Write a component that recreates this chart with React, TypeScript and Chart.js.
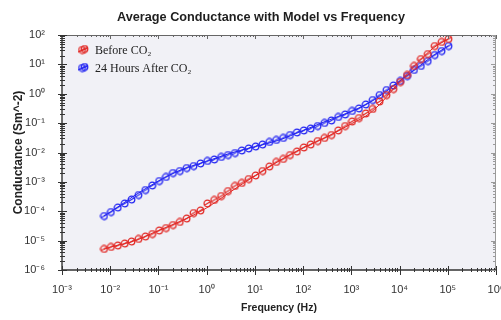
import React, { useEffect, useRef } from 'react';
import { Chart, registerables } from 'chart.js';

Chart.register(...registerables);

const titleText = 'Average Conductance with Model vs Frequency';
const xTitle = 'Frequency (Hz)';
const yTitle = 'Conductance (Sm^-2)';
const seriesLabels = ['Before CO₂', '24 Hours After CO₂'];
const seriesColors = ['#e22a26', '#2426f2'];

const frequencyHz = [
  0.00741, 0.0103, 0.0143, 0.0199, 0.0276, 0.0384, 0.0533, 0.0741, 0.103, 0.143,
  0.199, 0.276, 0.384, 0.533, 0.741, 1.03, 1.43, 1.99, 2.76, 3.84,
  5.33, 7.41, 10.3, 14.3, 19.9, 27.6, 38.4, 53.3, 74.1, 103,
  143, 199, 276, 384, 533, 741, 1030, 1430, 1990, 2760,
  3840, 5330, 7410, 10300, 14300, 19900, 27600, 38400, 53300, 74100,
  103000,
];

const beforeCO2 = [
  5.19e-6, 6.07e-6, 6.82e-6, 7.98e-6, 9.33e-6, 1.14e-5, 1.38e-5, 1.68e-5, 2.21e-5, 2.69e-5,
  3.4e-5, 4.31e-5, 5.66e-5, 8.71e-5, 1.06e-4, 1.84e-4, 2.42e-4, 3.3e-4, 4.89e-4, 7.24e-4,
  9.16e-4, 1.25e-3, 1.65e-3, 2.34e-3, 3.33e-3, 4.75e-3, 6.01e-3, 8.22e-3, 1.08e-2, 1.48e-2,
  1.87e-2, 2.46e-2, 3.12e-2, 3.94e-2, 5.61e-2, 7.98e-2, 0.1135, 0.149, 0.213, 0.303,
  0.545, 0.906, 1.45, 2.51, 4.35, 8.81, 15.2, 22.5, 42.2, 57.8,
  73.1,
];

const after24hCO2 = [
  6.89e-5, 9.42e-5, 1.34e-4, 1.84e-4, 2.51e-4, 3.57e-4, 5.28e-4, 7.53e-4, 1.07e-3, 1.47e-3,
  2.0e-3, 2.34e-3, 2.96e-3, 3.47e-3, 4.23e-3, 5.14e-3, 5.78e-3, 7.03e-3, 8.22e-3, 9.61e-3,
  1.17e-2, 1.37e-2, 1.6e-2, 1.87e-2, 2.28e-2, 2.67e-2, 3.12e-2, 3.94e-2, 4.8e-2, 5.61e-2,
  6.56e-2, 7.98e-2, 0.101, 0.123, 0.162, 0.197, 0.259, 0.315, 0.431, 0.612,
  0.906, 1.34, 1.91, 2.72, 4.02, 6.44, 8.81, 13.0, 20.8, 28.5,
  42.2,
];

const modelFrequencyHz = [
  0.0074, 0.01, 0.03, 0.1, 0.3, 1, 3, 10, 30, 100, 300, 1000, 2000, 3000, 5000, 10000, 20000, 50000, 103000,
];
const modelBeforeCO2 = [
  5.1e-6, 6.0e-6, 9.5e-6, 2.2e-5, 4.7e-5, 1.3e-4, 4.4e-4, 1.6e-3, 4.9e-3, 1.45e-2, 3.3e-2, 9.5e-2, 0.174, 0.29, 0.68, 2.6, 8.5, 36, 74,
];
const modelAfter24hCO2 = [
  6.9e-5, 9.3e-5, 3.2e-4, 1.07e-3, 2.6e-3, 5.0e-3, 9.3e-3, 1.58e-2, 2.57e-2, 5.6e-2, 0.117, 0.25, 0.43, 0.63, 1.12, 2.7, 6.3, 20, 42.7,
];

const xTickValues = [1e-3, 1e-2, 1e-1, 1e0, 1e1, 1e2, 1e3, 1e4, 1e5, 1e6];
const xTickLabels = ['10⁻³', '10⁻²', '10⁻¹', '10⁰', '10¹', '10²', '10³', '10⁴', '10⁵', '10⁶'];
const yTickValues = [1e-6, 1e-5, 1e-4, 1e-3, 1e-2, 1e-1, 1e0, 1e1, 1e2];
const yTickLabels = ['10⁻⁶', '10⁻⁵', '10⁻⁴', '10⁻³', '10⁻²', '10⁻¹', '10⁰', '10¹', '10²'];
const minorMultipliers = [2, 3, 4, 5, 6, 7, 8, 9];

const SANS = '"Liberation Sans", Arial, sans-serif';
const SERIF = '"Liberation Serif", "Times New Roman", serif';

function makeMarker(color: string): HTMLCanvasElement {
  const c = document.createElement('canvas');
  c.width = 9;
  c.height = 9;
  const g = c.getContext('2d')!;
  g.strokeStyle = color;
  g.lineWidth = 1.3;
  g.beginPath();
  g.arc(4.5, 4.5, 3.3, 0, Math.PI * 2);
  g.stroke();
  g.beginPath();
  g.moveTo(2.0, 6.0);
  g.lineTo(7.0, 3.0);
  g.stroke();
  return c;
}

export default function App() {
  const canvasRef = useRef<HTMLCanvasElement | null>(null);

  useEffect(() => {
    const canvas = canvasRef.current;
    if (!canvas) return;
    const markers = seriesColors.map(makeMarker);

    const bgPlugin = {
      id: 'plotBg',
      beforeDraw(chart: any) {
        const { ctx, chartArea: a } = chart;
        ctx.save();
        ctx.fillStyle = '#f1f1f6';
        ctx.fillRect(a.left, a.top, a.right - a.left, a.bottom - a.top);
        ctx.restore();
      },
    };

    const framePlugin = {
      id: 'frame',
      afterDatasetsDraw(chart: any) {
        const { ctx, chartArea: a, scales } = chart;
        const xs = scales.x;
        const ys = scales.y;
        ctx.save();
        ctx.lineWidth = 1;
        ctx.strokeStyle = '#666';
        ctx.beginPath();
        ctx.moveTo(a.left, a.top + 0.5);
        ctx.lineTo(a.right, a.top + 0.5);
        ctx.stroke();
        ctx.strokeStyle = '#9a9a9a';
        ctx.beginPath();
        ctx.moveTo(a.right - 0.5, a.top);
        ctx.lineTo(a.right - 0.5, a.bottom);
        ctx.stroke();
        ctx.strokeStyle = '#333';
        ctx.lineWidth = 1.4;
        ctx.beginPath();
        ctx.moveTo(a.left, a.bottom);
        ctx.lineTo(a.right, a.bottom);
        ctx.moveTo(a.left, a.top);
        ctx.lineTo(a.left, a.bottom);
        ctx.stroke();

        ctx.lineWidth = 1;
        for (let d = -3; d <= 6; d++) {
          const base = Math.pow(10, d);
          const px = Math.round(xs.getPixelForValue(base)) + 0.5;
          ctx.strokeStyle = '#333';
          ctx.beginPath();
          ctx.moveTo(px, a.bottom - 4);
          ctx.lineTo(px, a.bottom + 5);
          ctx.stroke();
          ctx.strokeStyle = '#666';
          ctx.beginPath();
          ctx.moveTo(px, a.top);
          ctx.lineTo(px, a.top + 4);
          ctx.stroke();
          if (d === 6) continue;
          for (const m of minorMultipliers) {
            const p = Math.round(xs.getPixelForValue(m * base)) + 0.5;
            ctx.strokeStyle = '#333';
            ctx.beginPath();
            ctx.moveTo(p, a.bottom - 2);
            ctx.lineTo(p, a.bottom + 2);
            ctx.stroke();
            ctx.strokeStyle = '#666';
            ctx.beginPath();
            ctx.moveTo(p, a.top);
            ctx.lineTo(p, a.top + 2);
            ctx.stroke();
          }
        }
        for (let d = -6; d <= 2; d++) {
          const base = Math.pow(10, d);
          const py = Math.round(ys.getPixelForValue(base)) + 0.5;
          ctx.strokeStyle = '#333';
          ctx.beginPath();
          ctx.moveTo(a.left - 4, py);
          ctx.lineTo(a.left + 5, py);
          ctx.stroke();
          ctx.strokeStyle = '#9a9a9a';
          ctx.beginPath();
          ctx.moveTo(a.right, py);
          ctx.lineTo(a.right - 5, py);
          ctx.stroke();
          if (d === 2) continue;
          for (const m of minorMultipliers) {
            const p = Math.round(ys.getPixelForValue(m * base)) + 0.5;
            ctx.strokeStyle = '#333';
            ctx.beginPath();
            ctx.moveTo(a.left - 2, p);
            ctx.lineTo(a.left + 3, p);
            ctx.stroke();
            ctx.strokeStyle = '#9a9a9a';
            ctx.beginPath();
            ctx.moveTo(a.right, p);
            ctx.lineTo(a.right - 3, p);
            ctx.stroke();
          }
        }
        ctx.restore();
      },
    };

    const overlayPlugin = {
      id: 'overlay',
      afterDraw(chart: any) {
        const { ctx, chartArea: a } = chart;
        ctx.save();
        ctx.fillStyle = '#1e1e1e';
        ctx.font = `bold 12.7px ${SANS}`;
        ctx.textAlign = 'center';
        ctx.textBaseline = 'middle';
        ctx.fillText(titleText, 261, 17);
        ctx.font = `12px ${SERIF}`;
        ctx.textAlign = 'left';
        seriesLabels.forEach((label, i) => {
          const cy = a.top + 15 + i * 18;
          const cx = a.left + 21;
          ctx.strokeStyle = seriesColors[i];
          ctx.lineWidth = 1;
          ctx.beginPath();
          ctx.moveTo(cx - 5, cy + 2);
          ctx.lineTo(cx + 5, cy - 2);
          ctx.stroke();
          ctx.drawImage(markers[i], cx - 4.5 - 1, cy - 4.5);
          ctx.drawImage(markers[i], cx - 4.5 + 1.5, cy - 4.5 - 1);
          ctx.fillStyle = '#222';
          ctx.fillText(label, a.left + 33, cy + 1);
        });
        ctx.restore();
      },
    };

    const chart = new Chart(canvas, {
      type: 'scatter',
      data: {
        datasets: [
          {
            label: seriesLabels[0],
            data: frequencyHz.map((f, i) => ({ x: f, y: beforeCO2[i] })),
            pointStyle: markers[0],
            borderColor: seriesColors[0],
            showLine: false,
            order: 1,
          },
          {
            label: seriesLabels[1],
            data: frequencyHz.map((f, i) => ({ x: f, y: after24hCO2[i] })),
            pointStyle: markers[1],
            borderColor: seriesColors[1],
            showLine: false,
            order: 1,
          },
          {
            label: 'Model ' + seriesLabels[0],
            data: modelFrequencyHz.map((f, i) => ({ x: f, y: modelBeforeCO2[i] })),
            showLine: true,
            pointRadius: 0,
            borderColor: seriesColors[0],
            borderWidth: 1,
            cubicInterpolationMode: 'monotone',
            order: 2,
          },
          {
            label: 'Model ' + seriesLabels[1],
            data: modelFrequencyHz.map((f, i) => ({ x: f, y: modelAfter24hCO2[i] })),
            showLine: true,
            pointRadius: 0,
            borderColor: seriesColors[1],
            borderWidth: 1,
            cubicInterpolationMode: 'monotone',
            order: 2,
          },
        ],
      },
      options: {
        animation: false,
        responsive: false,
        events: [],
        layout: { padding: { left: 11, right: 2, top: 35, bottom: 6 } },
        plugins: {
          legend: { display: false },
          title: { display: false },
          tooltip: { enabled: false },
        },
        scales: {
          x: {
            type: 'logarithmic',
            position: 'bottom',
            min: 1e-3,
            max: 1e6,
            grid: { display: false, drawTicks: false },
            border: { display: false },
            afterBuildTicks: (s: any) => {
              s.ticks = xTickValues.map((v) => ({ value: v }));
            },
            afterFit: (s: any) => {
              s.height = 44;
              s.paddingLeft = 0;
              s.paddingRight = 0;
            },
            ticks: {
              autoSkip: false,
              maxRotation: 0,
              padding: 13,
              color: '#333',
              font: { family: SANS, size: 11 },
              callback: (_v: any, i: number) => xTickLabels[i],
            },
            title: {
              display: true,
              text: xTitle,
              color: '#222',
              font: { family: SANS, size: 10.5, weight: 'bold' },
              padding: 0,
            },
          },
          y: {
            type: 'logarithmic',
            position: 'left',
            min: 1e-6,
            max: 1e2,
            grid: { display: false, drawTicks: false },
            border: { display: false },
            afterBuildTicks: (s: any) => {
              s.ticks = yTickValues.map((v) => ({ value: v }));
            },
            afterFit: (s: any) => {
              s.width = 51;
              s.paddingTop = 0;
              s.paddingBottom = 0;
            },
            ticks: {
              autoSkip: false,
              padding: 17,
              color: '#333',
              font: { family: SANS, size: 11 },
              callback: (_v: any, i: number) => yTickLabels[i],
            },
            title: {
              display: true,
              text: yTitle,
              color: '#222',
              font: { family: SANS, size: 12, weight: 'bold' },
              padding: 0,
            },
          },
        },
      },
      plugins: [bgPlugin, framePlugin, overlayPlugin],
    } as any);

    return () => chart.destroy();
  }, []);

  return (
    <div style={{ position: 'absolute', left: 0, top: 0, width: 501, height: 320, background: '#fff' }}>
      <canvas ref={canvasRef} width={501} height={320} style={{ display: 'block' }} />
    </div>
  );
}
